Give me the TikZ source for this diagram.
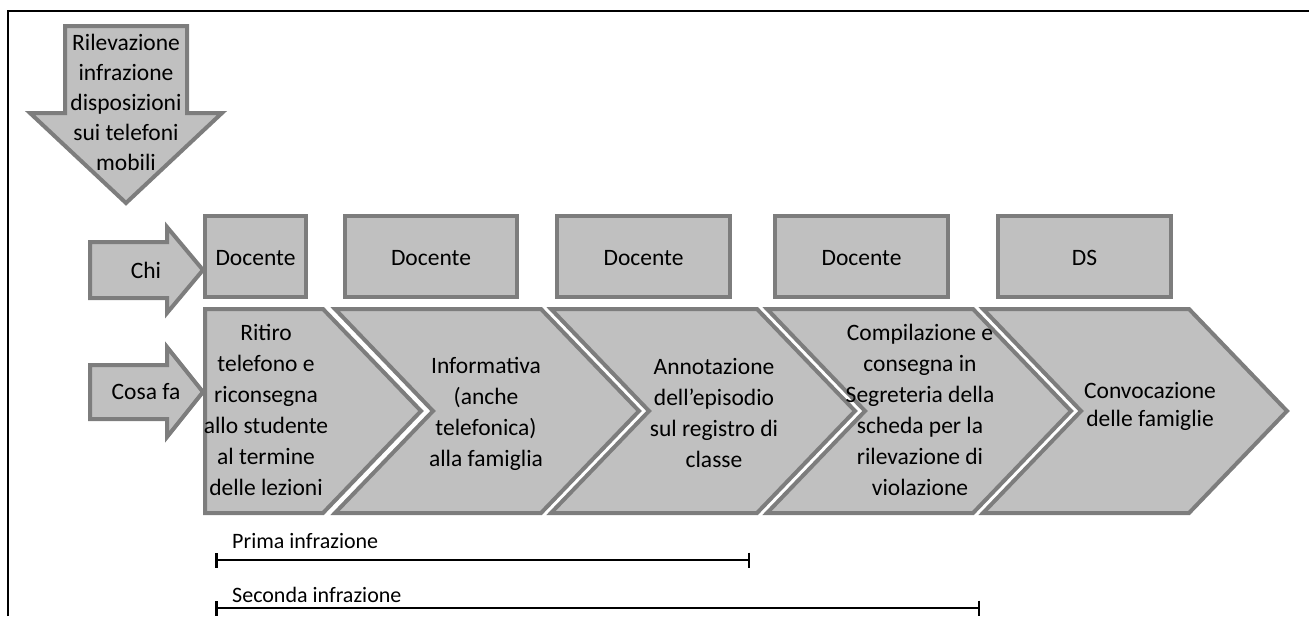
\documentclass[tikz,border=0pt]{standalone}
\usepackage{fontspec}
\setmainfont{Carlito}
\usetikzlibrary{arrows.meta}
\definecolor{fillgray}{RGB}{192,192,192}
\definecolor{edgegray}{RGB}{125,125,125}

\begin{document}
\begin{tikzpicture}[x=1pt, y=-1pt,
	blk/.style = {fill=fillgray, draw=edgegray, line width=4pt, line join=miter},
	lbl/.style = {font=\fontsize{23.5}{31}\selectfont, align=center, inner sep=0pt},
	spanline/.style = {line width=2.5pt, {Bar[width=15pt]}-{Bar[width=15pt]}}]
	\useasboundingbox (0,0) rectangle (1309,616);
	\draw [line width=2.5pt] (8,616) -- (8,11) -- (1309,11);
	\draw [blk] (65,26) -- (187,26) -- (187,113) -- (222,113) -- (126,203) -- (30,113) -- (65,113) -- cycle;
	\node [lbl, font=\fontsize{23.5}{30}\selectfont] (rilev) at (126,102) {Rilevazione\\infrazione\\disposizioni\\sui telefoni\\mobili};
	\draw [blk] (90,242) -- (167,242) -- (167,227) -- (203,270) -- (167,313) -- (167,298) -- (90,298) -- cycle;
	\node [lbl] (chi) at (146,270) {Chi};
	\draw [blk] (90,365) -- (167,365) -- (167,347) -- (203,392) -- (167,437) -- (167,419) -- (90,419) -- cycle;
	\node [lbl] (cosa) at (146,392) {Cosa fa};
	\foreach \l/\r/\who [count=\i] in {205/306/Docente, 345/517/Docente, 557/730/Docente, 775/948/Docente, 998/1171/DS} {
		\draw [blk] (\l,216) rectangle (\r,297);
		\node [lbl] (who\i) at ({(\l+\r)/2},258) {\who};
	}
	\draw [blk] (205,309) -- (323,309) -- (421,411) -- (323,513) -- (205,513) -- cycle;
	\foreach \l/\r in {335/541, 551/757, 767/973, 983/1189}
		\draw [blk] (\l,309) -- (\r,309) -- ({\r+98},411) -- (\r,513) -- (\l,513) -- ({\l+98},411) -- cycle;
	\node [lbl] (step1) at (266,410) {Ritiro\\telefono e\\riconsegna\\allo studente\\al termine\\delle lezioni};
	\node [lbl] (step2) at (486,414) {Informativa\\(anche\\telefonica)\\alla famiglia};
	\node [lbl] (step3) at (714,413) {Annotazione\\dell’episodio\\sul registro di\\classe};
	\node [lbl] (step4) at (920,410) {Compilazione e\\consegna in\\Segreteria della\\scheda per la\\rilevazione di\\violazione};
	\node [lbl, font=\fontsize{23.5}{28}\selectfont] (step5) at (1150,406) {Convocazione\\delle famiglie};
	\coordinate (p1) at (215,560);
	\coordinate (p2) at (750,560);
	\coordinate (s1) at (215,608);
	\coordinate (s2) at (980,608);
	\draw [spanline] (p1) -- (p2);
	\draw [spanline] (s1) -- (s2);
	\node [lbl, font=\fontsize{22}{26}\selectfont, anchor=west] (prima) at (232,541) {Prima infrazione};
	\node [lbl, font=\fontsize{22}{26}\selectfont, anchor=west] (seconda) at (232,595) {Seconda infrazione};
\end{tikzpicture}
\end{document}
